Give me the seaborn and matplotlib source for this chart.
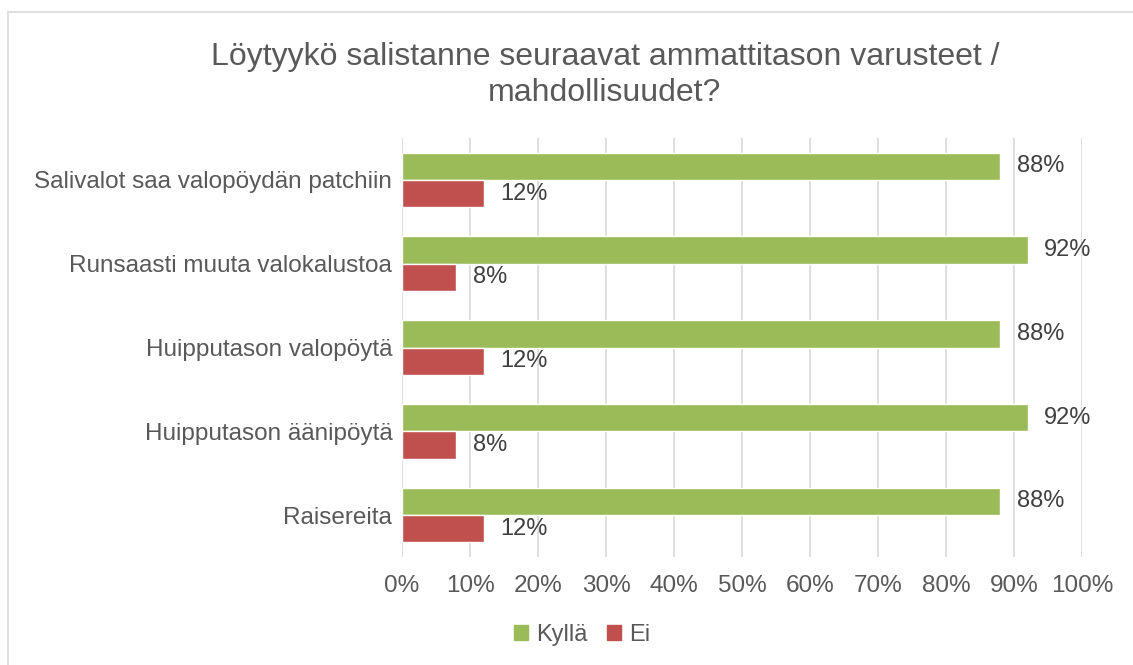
import matplotlib
matplotlib.use("Agg")
import matplotlib.pyplot as plt
import seaborn as sns
import pandas as pd
from matplotlib.ticker import PercentFormatter, MultipleLocator
from matplotlib.patches import Rectangle

categories = ["Salivalot saa valopöydän patchiin", "Runsaasti muuta valokalustoa",
              "Huipputason valopöytä", "Huipputason äänipöytä", "Raisereita"]
kylla = [88, 92, 88, 92, 88]
ei = [12, 8, 12, 8, 12]
series = ["Kyllä", "Ei"]
colors = ["#9BBB59", "#C0504D"]

df = pd.DataFrame({
    "cat": categories * 2,
    "val": kylla + ei,
    "series": [series[0]] * len(categories) + [series[1]] * len(categories),
})

sns.set_theme(style="white")
plt.rcParams['font.family'] = ['Liberation Sans', 'DejaVu Sans']

fig = plt.figure(figsize=(11.33, 6.65), dpi=100)
ax = fig.add_axes([402/1133, 1-557/665, (1082-402)/1133, (557-138)/665])

sns.barplot(data=df, y="cat", x="val", hue="series", palette=colors,
            orient="h", width=0.65, ax=ax, saturation=1, legend=False)

ax.set_xlim(0, 100)
ax.xaxis.set_major_locator(MultipleLocator(10))
ax.xaxis.set_major_formatter(PercentFormatter(decimals=0))
ax.grid(axis="x", color="#D9D9D9", linewidth=1.2)
ax.set_axisbelow(True)
for s in ax.spines.values():
    s.set_visible(False)
ax.set_xlabel("")
ax.set_ylabel("")
ax.tick_params(axis="both", length=0, labelsize=17.5, labelcolor="#595959")
ax.tick_params(axis="x", pad=13)
ax.tick_params(axis="y", pad=7)

for cont in ax.containers:
    ax.bar_label(cont, labels=[f"{int(v)}%" for v in cont.datavalues],
                 padding=12, fontsize=17, color="#404040")

fig.text(605/1133, 1-75/665, "Löytyykö salistanne seuraavat ammattitason varusteet /\nmahdollisuudet?",
         ha="center", va="center", fontsize=23, color="#595959", linespacing=1.3)

handles = [Rectangle((0, 0), 1, 1, color=c) for c in colors]
fig.legend(handles, series, loc="center", bbox_to_anchor=(582/1133, 1-635/665),
           ncol=2, frameon=False, fontsize=17, handlelength=0.6, handleheight=0.6,
           handletextpad=0.35, columnspacing=0.8, labelcolor="#595959")

fig.patches.append(Rectangle((8/1133, -0.1), 1.2, 1-12/665+0.1, transform=fig.transFigure,
                             fill=False, edgecolor="#D9D9D9", linewidth=1.2))

fig.savefig("out.png", dpi=100)
